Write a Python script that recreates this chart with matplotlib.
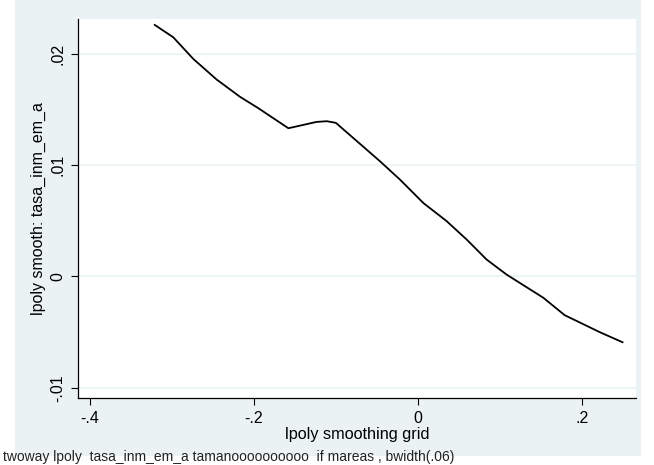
import matplotlib
matplotlib.use("Agg")
import matplotlib.pyplot as plt

plt.rcParams['font.family'] = ['Liberation Sans', 'DejaVu Sans']

grid_x = [-0.321, -0.2984, -0.274, -0.2455, -0.217, -0.1947, -0.158, -0.1235, -0.111, -0.100,
          -0.0463, -0.022, 0.0065, 0.035, 0.0594, 0.0838, 0.108, 0.153, 0.179, 0.222, 0.2496]
smooth_y = [0.02257, 0.02146, 0.01952, 0.01767, 0.01612, 0.0151, 0.0133, 0.01387, 0.01393, 0.01378,
            0.01034, 0.0087, 0.0066, 0.00497, 0.00332, 0.00152, 0.00018, -0.00191, -0.00347, -0.0050, -0.0059]

x_ticks = [-0.4, -0.2, 0.0, 0.2]
x_ticklabels = ['-.4', '-.2', '0', '.2']
y_ticks = [-0.01, 0.0, 0.01, 0.02]
y_ticklabels = ['-.01', '0', '.01', '.02']

W, H = 654, 465
fig = plt.figure(figsize=(W/100, H/100), dpi=100, facecolor='white')
panel = '#EAF2F3'

bg = fig.add_axes([15/W, 1-456/H, (641-15)/W, 456/H], zorder=-5)
bg.set_facecolor(panel)
bg.set_xticks([]); bg.set_yticks([])
for s in bg.spines.values():
    s.set_visible(False)

ax = fig.add_axes([78/W, 1-398/H, (636-78)/W, (398-19)/H], zorder=1)
ax.set_facecolor('white')
ax.plot(grid_x, smooth_y, color='black', lw=1.3, zorder=3)
ax.set_xlim(-0.4146, 0.266)
ax.set_ylim(-0.0109, 0.0231)
ax.set_xticks(x_ticks)
ax.set_xticklabels(x_ticklabels, fontsize=11.5)
ax.set_yticks(y_ticks)
ax.set_yticklabels(y_ticklabels, fontsize=11.5, rotation=90, va='center')
ax.tick_params(axis='both', direction='out', length=5, width=0.8, colors='black', pad=4)
ax.grid(axis='y', color=panel, lw=1.2, zorder=0)
for s in ['top', 'right']:
    ax.spines[s].set_visible(False)
for s in ['left', 'bottom']:
    ax.spines[s].set_color('black')
    ax.spines[s].set_linewidth(0.9)
ax.set_xlabel('lpoly smoothing grid', fontsize=11.7, labelpad=1)
ax.set_ylabel('lpoly smooth: tasa_inm_em_a', fontsize=11.5, labelpad=3)

fig.text(3/W, 1/H, 'twoway lpoly  tasa_inm_em_a tamanoooooooooo  if mareas , bwidth(.06)',
         fontsize=10, va='bottom', ha='left', color='#222222', zorder=5)

fig.savefig('out.png', dpi=100, facecolor='white')
